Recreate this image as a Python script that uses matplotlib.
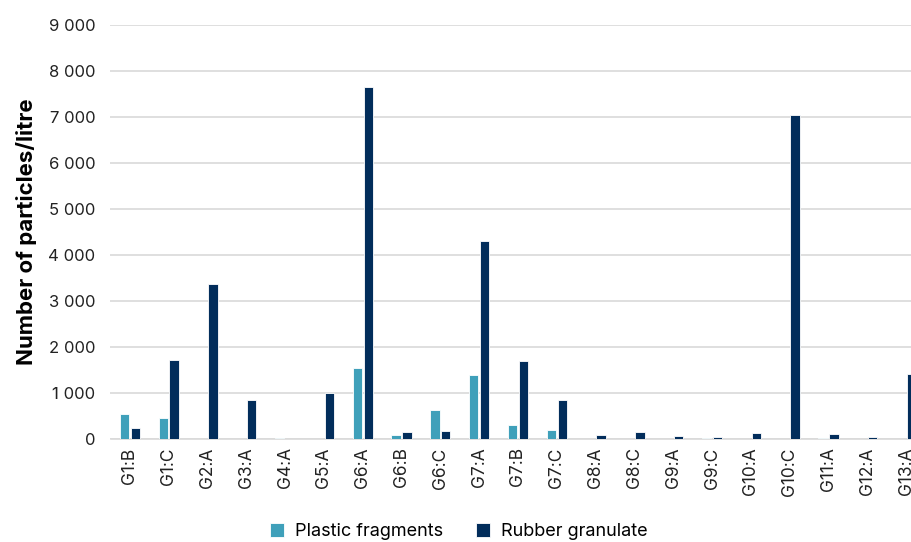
import matplotlib.pyplot as plt
import numpy as np

plt.rcParams['font.family'] = ['Inter', 'DejaVu Sans']

sites = ['G1:B', 'G1:C', 'G2:A', 'G3:A', 'G4:A', 'G5:A', 'G6:A', 'G6:B', 'G6:C',
         'G7:A', 'G7:B', 'G7:C', 'G8:A', 'G8:C', 'G9:A', 'G9:C', 'G10:A', 'G10:C',
         'G11:A', 'G12:A', 'G13:A']
plastic = [550, 455, 0, 0, 30, 0, 1540, 95, 620, 1390, 300, 200, 0, 0, 0, 15, 0, 0, 20, 0, 0]
rubber = [240, 1715, 3360, 850, 0, 1000, 7660, 160, 180, 4300, 1690, 850, 95, 160, 65, 45, 130, 7050, 100, 50, 1420]

c_plastic = '#3FA0BA'
c_rubber = '#022D5B'

fig = plt.figure(figsize=(9.12, 5.42), dpi=100)
ax = fig.add_axes([110.5 / 912, 1 - 439 / 542, 815 / 912, 414 / 542])

x = np.arange(len(sites))
w = 0.24
ax.bar(x - 0.14, plastic, w, color=c_plastic, edgecolor='white', linewidth=0.6,
       label='Plastic fragments', zorder=3)
ax.bar(x + 0.14, rubber, w, color=c_rubber, edgecolor='white', linewidth=0.6,
       label='Rubber granulate', zorder=3)

ax.set_xlim(-0.5, len(sites) - 0.5)
ax.set_ylim(0, 9000)
ax.set_yticks(np.arange(0, 9001, 1000))
ax.set_yticklabels([f'{v:,}'.replace(',', ' ') for v in range(0, 9001, 1000)],
                   fontsize=12, color='#222222')
ax.set_xticks(x)
ax.set_xticklabels(sites, rotation=90, fontsize=12.5, color='#222222')
ax.tick_params(length=0, pad=6)
ax.tick_params(axis='y', pad=11)

ax.grid(axis='y', color='#D9D9D9', linewidth=1.2, zorder=0)
for s in ['top', 'right', 'left']:
    ax.spines[s].set_visible(False)
ax.spines['bottom'].set_color('#D9D9D9')
ax.spines['bottom'].set_linewidth(1.2)

ax.set_ylabel('Number of particles/litre', fontsize=16, fontweight='bold', labelpad=8)

fig.legend(loc='lower center', bbox_to_anchor=(0.503, -0.027), ncol=2, frameon=False,
           fontsize=13, handlelength=0.8, handleheight=0.8, columnspacing=1.8,
           handletextpad=0.6)

fig.savefig('out.png', dpi=100)
